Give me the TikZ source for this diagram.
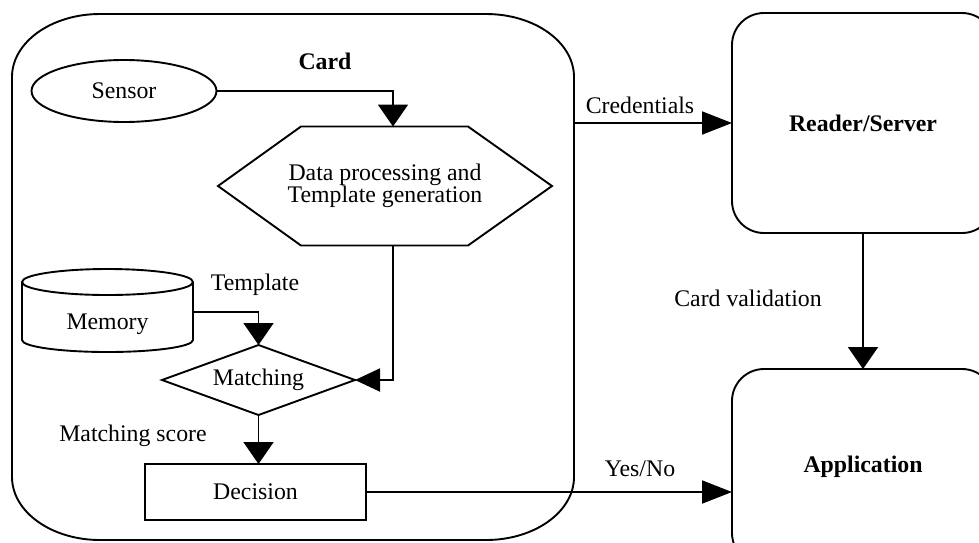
\documentclass[tikz,border=0pt]{standalone}
\usepackage{fontspec}
\setmainfont{Liberation Serif}
\usetikzlibrary{arrows.meta,shapes.geometric}
\begin{document}
\begin{tikzpicture}[x=1pt,y=-1pt,line width=1.9pt,
  font=\fontsize{23.8}{22}\selectfont,
  boldtxt/.style={font=\fontsize{23.8}{22}\selectfont\bfseries},
  ghost/.style={inner sep=0pt,outer sep=0pt},
  av/.style={-{Triangle[length=22pt,width=30pt]}},
  ah/.style={-{Triangle[length=30pt,width=23pt]}},
  am/.style={-{Triangle[length=25pt,width=23pt]}},
  lbl/.style={inner sep=0pt}]
\useasboundingbox (0,0) rectangle (979,542);
\clip (0,0) rectangle (979,542);

% Card container
\draw (100,14) -- (486,14) .. controls (534.6,14) and (574,42.2) .. (574,77)
  -- (574,477) .. controls (574,511.8) and (534.6,540) .. (486,540)
  -- (100,540) .. controls (51.4,540) and (12,511.8) .. (12,477)
  -- (12,77) .. controls (12,42.2) and (51.4,14) .. (100,14) -- cycle;
\node (card) [ghost,minimum width=562pt,minimum height=526pt] at (293,277) {};
\node (cardlbl) [lbl,boldtxt] at (325,61) {Card};

% Sensor
\node (sensor) [draw,ellipse,ghost,minimum width=185pt,minimum height=62pt] at (124,91) {Sensor};

% Data processing hexagon
\node (dp) [ghost,minimum width=334pt,minimum height=119pt,align=center] at (385,186) {Data processing and\\Template generation};
\draw (dp.west) -- ([xshift=-84pt]dp.north) -- ([xshift=83pt]dp.north) -- (dp.east)
  -- ([xshift=83pt]dp.south) -- ([xshift=-84pt]dp.south) -- cycle;
\draw[av] (sensor.east) -| ([xshift=8pt]dp.north);

% Memory cylinder
\draw (107.5,282) ellipse [x radius=85.5pt,y radius=13pt];
\draw (22,282) -- (22,340) arc[start angle=180,end angle=360,x radius=85.5pt,y radius=12pt] -- (193,282);
\node (mem) [ghost,minimum width=171pt] at (107.5,324) {Memory};
\node (tpl) [lbl] at (255,285) {Template};

% Matching diamond
\node (match) [ghost,minimum width=193pt,minimum height=70pt] at (258.5,380) {Matching};
\draw (match.west) -- (match.north) -- (match.east) -- (match.south) -- cycle;
\draw[av] ([yshift=12pt]mem.east) -| (match.north);
\draw[am] ([xshift=8pt]dp.south) |- (match.east);

% Decision
\node (msc) [lbl] at (133,436) {Matching score};
\node (dec) [draw,ghost,minimum width=221pt,minimum height=56pt] at (255.5,492) {Decision};
\draw[av] (match.south) -- (match.south |- dec.north);

% Right side
\node (rs) [draw,ghost,rounded corners=32pt,minimum width=262pt,minimum height=220pt,boldtxt] at (863,123) {Reader/Server};
\node (app) [draw,ghost,rounded corners=32pt,minimum width=262pt,minimum height=196pt,boldtxt] at (863,467) {Application};

\draw[ah] (card.east |- rs.west) -- (rs.west);
\node (cred) [lbl] at (640,105) {Credentials};
\draw[av] (rs.south) -- (app.north);
\node (cval) [lbl] at (748,298) {Card validation};
\draw[ah] (dec.east) -- (dec.east -| app.west);
\node (yn) [lbl] at (640,469) {Yes/No};
\end{tikzpicture}
\end{document}
